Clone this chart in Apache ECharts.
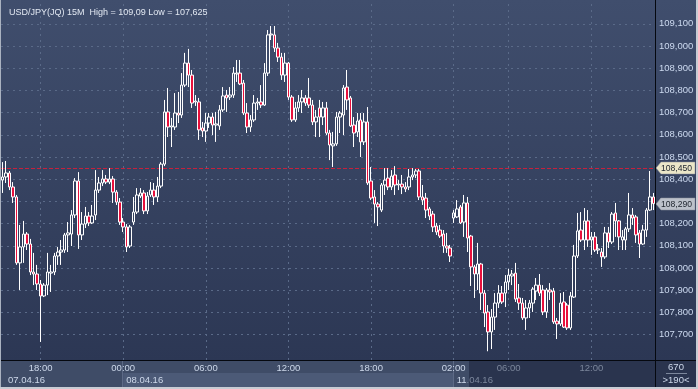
<!DOCTYPE html>
<html><head><meta charset="utf-8">
<script src="https://cdn.jsdelivr.net/npm/echarts@6/dist/echarts.min.js"></script>
<style>html,body{margin:0;padding:0;background:#2c3754;overflow:hidden}#c{width:698px;height:389px}</style>
</head><body><div id="c"></div>
<script>
const opens = [
108.396,108.410,108.428,108.365,108.320,108.023,108.095,108.153,108.108,107.982,
107.973,107.928,107.874,107.923,107.977,107.982,108.054,108.072,108.081,108.149,
108.153,108.239,108.392,108.149,108.198,108.234,108.203,108.239,108.351,108.383,
108.401,108.387,108.401,108.342,108.297,108.207,108.185,108.099,108.207,108.252,
108.324,108.338,108.257,108.329,108.351,108.320,108.369,108.468,108.703,108.635,
108.635,108.698,108.689,108.824,108.923,108.869,108.748,108.748,108.631,108.617,
108.653,108.680,108.644,108.640,108.712,108.779,108.770,108.779,108.874,108.878,
108.833,108.698,108.635,108.667,108.743,108.748,108.734,108.878,109.050,109.050,
108.991,108.950,108.869,108.923,108.770,108.667,108.721,108.748,108.766,108.766,
108.734,108.658,108.721,108.680,108.721,108.608,108.550,108.559,108.680,108.689,
108.815,108.766,108.644,108.613,108.667,108.568,108.658,108.392,108.320,108.288,
108.261,108.374,108.405,108.365,108.419,108.374,108.378,108.365,108.365,108.410,
108.419,108.437,108.320,108.315,108.266,108.243,108.189,108.171,108.153,108.099,
108.090,108.225,108.230,108.275,108.207,108.293,108.144,108.005,107.973,108.018,
107.887,107.802,107.712,107.779,107.842,107.887,107.887,107.937,107.964,107.977,
107.865,107.842,107.775,107.820,107.842,107.896,107.923,107.901,107.802,107.901,
107.896,107.761,107.748,107.847,107.833,107.730,107.869,108.054,108.171,108.126,
108.212,108.126,108.140,108.081,108.072,108.050,108.158,108.117,108.248,108.212,
108.126,108.126,108.176,108.239,108.230,108.158,108.108,108.171,108.261,108.320];
const closes = [
108.410,108.428,108.365,108.320,108.023,108.095,108.153,108.108,107.982,107.973,
107.928,107.874,107.923,107.982,107.982,108.054,108.072,108.081,108.149,108.158,
108.239,108.392,108.149,108.198,108.234,108.203,108.234,108.351,108.383,108.401,
108.387,108.401,108.342,108.297,108.207,108.185,108.095,108.185,108.252,108.329,
108.338,108.257,108.324,108.351,108.320,108.369,108.468,108.703,108.635,108.640,
108.698,108.689,108.824,108.923,108.869,108.743,108.752,108.622,108.617,108.653,
108.680,108.644,108.649,108.712,108.775,108.766,108.779,108.878,108.878,108.829,
108.698,108.635,108.667,108.743,108.748,108.734,108.878,109.050,109.054,108.991,
108.950,108.869,108.923,108.770,108.667,108.721,108.748,108.766,108.743,108.734,
108.658,108.680,108.680,108.721,108.608,108.554,108.559,108.680,108.698,108.811,
108.757,108.640,108.608,108.662,108.568,108.658,108.383,108.315,108.288,108.275,
108.374,108.396,108.365,108.414,108.374,108.378,108.365,108.356,108.410,108.419,
108.437,108.320,108.306,108.261,108.234,108.185,108.162,108.144,108.099,108.090,
108.054,108.248,108.266,108.203,108.293,108.135,108.005,107.973,108.018,107.887,
107.797,107.712,107.779,107.842,107.887,107.847,107.937,107.968,107.973,107.860,
107.842,107.775,107.820,107.842,107.905,107.923,107.887,107.802,107.901,107.892,
107.757,107.748,107.842,107.734,107.730,107.874,108.054,108.167,108.126,108.212,
108.126,108.140,108.081,108.086,108.050,108.158,108.117,108.243,108.212,108.140,
108.140,108.176,108.239,108.225,108.149,108.108,108.171,108.261,108.320,108.290];
const lows = [
108.338,108.383,108.351,108.293,108.014,107.901,108.023,108.081,107.968,107.923,
107.901,107.667,107.869,107.878,107.892,107.968,108.014,108.014,108.068,108.072,
108.099,108.225,108.086,108.126,108.180,108.189,108.198,108.216,108.338,108.369,
108.378,108.378,108.293,108.284,108.194,108.162,108.072,108.090,108.194,108.243,
108.315,108.243,108.243,108.320,108.284,108.297,108.360,108.459,108.590,108.545,
108.622,108.653,108.676,108.815,108.815,108.721,108.730,108.577,108.590,108.568,
108.631,108.599,108.568,108.622,108.703,108.703,108.757,108.766,108.838,108.824,
108.689,108.608,108.613,108.658,108.712,108.721,108.730,108.865,109.027,108.973,
108.928,108.847,108.838,108.757,108.658,108.658,108.703,108.698,108.730,108.721,
108.644,108.590,108.590,108.644,108.599,108.486,108.455,108.550,108.608,108.599,
108.712,108.635,108.545,108.590,108.500,108.554,108.374,108.306,108.203,108.189,
108.252,108.329,108.351,108.351,108.329,108.351,108.333,108.342,108.351,108.396,
108.405,108.306,108.284,108.225,108.216,108.162,108.149,108.135,108.068,108.068,
108.027,108.203,108.225,108.198,108.140,108.072,107.919,107.865,107.901,107.811,
107.734,107.625,107.635,107.721,107.820,107.838,107.824,107.901,107.923,107.847,
107.811,107.766,107.721,107.775,107.802,107.856,107.874,107.788,107.775,107.856,
107.748,107.680,107.739,107.730,107.721,107.721,107.865,108.045,108.117,108.081,
108.095,108.059,108.072,108.063,108.005,108.041,108.090,108.108,108.140,108.081,
108.081,108.081,108.162,108.194,108.113,108.045,108.104,108.140,108.257,108.261];
const highs = [
108.477,108.482,108.437,108.387,108.329,108.194,108.212,108.162,108.131,108.068,
108.014,107.946,107.932,108.068,108.014,108.068,108.095,108.126,108.158,108.207,
108.261,108.405,108.432,108.252,108.275,108.252,108.284,108.441,108.410,108.441,
108.419,108.450,108.414,108.351,108.315,108.225,108.198,108.194,108.320,108.360,
108.360,108.351,108.342,108.387,108.383,108.410,108.477,108.757,108.811,108.676,
108.788,108.793,108.878,108.969,108.987,108.892,108.779,108.766,108.658,108.698,
108.698,108.698,108.703,108.734,108.815,108.802,108.815,108.905,108.937,108.937,
108.847,108.743,108.689,108.779,108.766,108.824,108.923,109.072,109.090,109.090,
109.014,108.969,108.969,108.928,108.779,108.748,108.779,108.802,108.779,108.856,
108.757,108.712,108.757,108.748,108.748,108.622,108.613,108.703,108.707,108.824,
108.892,108.775,108.680,108.698,108.698,108.698,108.725,108.455,108.351,108.297,
108.383,108.450,108.450,108.441,108.459,108.396,108.419,108.387,108.446,108.450,
108.446,108.446,108.374,108.338,108.275,108.257,108.203,108.194,108.171,108.158,
108.104,108.261,108.306,108.284,108.329,108.320,108.149,108.014,108.113,108.023,
107.901,107.833,107.815,107.887,107.923,107.919,107.968,107.996,107.991,108.023,
107.928,107.865,107.856,107.856,107.914,107.955,107.973,107.923,107.910,107.932,
107.910,107.775,107.887,107.892,107.842,107.892,108.104,108.248,108.252,108.270,
108.261,108.162,108.162,108.108,108.090,108.185,108.185,108.252,108.293,108.216,
108.171,108.185,108.338,108.270,108.239,108.171,108.194,108.270,108.437,108.338];

const tickIndex  = [11, 35, 59, 83, 107, 131, 147, 171];
const tickLabels = ['18:00','00:00','06:00','12:00','18:00','02:00','06:00','12:00'];
const dateIndex  = [0, 35, 131];
const dateLabels = ['07.04.16','08.04.16','11.04.16'];
const priceLevels = [107.7,107.8,107.9,108.0,108.1,108.2,108.3,108.4,108.5,108.6,108.7,108.8,108.9,109.0,109.1];
const markerPrices = [108.450, 108.290];
const markerLabels = ['108,450', '108,290'];
const titleText = 'USD/JPY(JQ) 15M  High = 109,09 Low = 107,625';
const infoLabels = ['670', '>190<'];

// category labels (15-minute bars; weekend gap after bar 130)
const categories = [];
function pad(n){ return (n < 10 ? '0' : '') + n; }
for (let i = 0; i < opens.length; i++) {
  let t, day;
  if (i < 131) { t = 915 + i * 15; day = t >= 1440 ? '08.04' : '07.04'; }
  else { t = 120 + (i - 131) * 15; day = '11.04'; }
  t = t % 1440;
  categories.push(day + ' ' + pad(Math.floor(t / 60)) + ':' + pad(t % 60));
}
const ohlc = opens.map((o, i) => [o, closes[i], lows[i], highs[i]]);

const FONT = '"Liberation Sans", Arial, sans-serif';
const chart = echarts.init(document.getElementById('c'), null, {renderer: 'canvas'});
const Y_MIN = 107.5856, Y_MAX = 109.2072;

const gridMarks = tickIndex.map(i => ({xAxis: categories[i]}))
  .concat(priceLevels.map(v => ({yAxis: v})));

chart.setOption({
  animation: false,
  backgroundColor: 'transparent',
  title: {
    text: titleText, left: 4, top: 3,
    textStyle: {color: '#e2e8f2', fontSize: 9, fontWeight: 'normal', fontFamily: FONT}
  },
  grid: {left: 1, right: 43, top: 0, bottom: 29, containLabel: false},
  xAxis: {
    type: 'category', data: categories, boundaryGap: true,
    axisLine: {show: false}, axisTick: {show: false}, axisLabel: {show: false},
    splitLine: {show: false}
  },
  yAxis: {
    type: 'value', position: 'right', min: Y_MIN, max: Y_MAX, scale: true,
    minInterval: 0.1, maxInterval: 0.1, splitNumber: 16,
    axisLine: {show: false}, axisTick: {show: false}, splitLine: {show: false},
    axisLabel: {
      show: true, margin: 4, color: '#cddaf0', fontSize: 9.5, fontFamily: FONT,
      showMinLabel: false, showMaxLabel: false,
      formatter: v => (v < 107.65 || v > 109.15) ? '' : v.toFixed(3).replace('.', ',')
    }
  },
  series: [
    {
      type: 'line', data: [], z: 1, silent: true,
      markLine: {
        z: 1, silent: true, symbol: 'none', animation: false,
        label: {show: false},
        lineStyle: {color: '#5a6a88', type: [2, 4], width: 1},
        data: gridMarks.concat([{yAxis: markerPrices[0], lineStyle: {color: '#c8203c', type: [4, 2], width: 1}}])
      }
    },
    {
      type: 'candlestick', data: ohlc, z: 5, barWidth: 3,
      itemStyle: {
        color: 'rgba(0,0,0,0)', color0: '#e8103c',
        borderColor: '#ffffff', borderColor0: '#ffffff', borderWidth: 1
      }
    }
  ]
});

// decorations positioned through the chart's own scales
const py = v => chart.convertToPixel({yAxisIndex: 0}, v);
const px = i => chart.convertToPixel({xAxisIndex: 0}, categories[i]);
const g = [];
g.push({type: 'rect', z: -10, silent: true, shape: {x: 0, y: 0, width: 698, height: 361},
  style: {fill: new echarts.graphic.LinearGradient(0, 0, 0, 1, [
    {offset: 0, color: '#404e6d'}, {offset: 1, color: '#2c3754'}])}});
// bottom axis area
g.push({type: 'rect', z: -5, silent: true, shape: {x: 0, y: 361, width: 698, height: 28}, style: {fill: '#3f4c67'}});
g.push({type: 'rect', z: -4, silent: true, shape: {x: px(35), y: 373, width: px(131) - px(35), height: 14}, style: {fill: '#4c5a77'}});
g.push({type: 'rect', z: -3, silent: true, shape: {x: 469, y: 361, width: 187, height: 26}, style: {fill: '#2a344e'}});
g.push({type: 'rect', z: -3, silent: true, shape: {x: 656, y: 361, width: 40, height: 26}, style: {fill: '#2a344e'}});
[35, 131].forEach(i => g.push({type: 'line', z: -2, silent: true,
  shape: {x1: Math.round(px(i)) - 0.5, y1: 361, x2: Math.round(px(i)) - 0.5, y2: 387}, style: {stroke: '#5d6a86', lineWidth: 1}}));
// black separators
g.push({type: 'line', z: 20, silent: true, shape: {x1: 0, y1: 360.5, x2: 698, y2: 360.5}, style: {stroke: '#05080f', lineWidth: 1}});
g.push({type: 'line', z: 20, silent: true, shape: {x1: 655.5, y1: 0, x2: 655.5, y2: 389}, style: {stroke: '#05080f', lineWidth: 1}});
// frame
g.push({type: 'rect', z: 21, silent: true, shape: {x: 0, y: 0, width: 1, height: 389}, style: {fill: '#aab2c0'}});
g.push({type: 'rect', z: 21, silent: true, shape: {x: 696, y: 0, width: 2, height: 389}, style: {fill: '#c8ccd4'}});
g.push({type: 'rect', z: 21, silent: true, shape: {x: 0, y: 387, width: 698, height: 2}, style: {fill: '#c8ccd4'}});
// time labels
tickIndex.forEach((idx, k) => g.push({type: 'text', z: 10, silent: true,
  style: {x: px(idx), y: 368, text: tickLabels[k], fill: idx >= 140 ? '#7c879c' : '#cdd8ea',
    fontSize: 9.5, fontFamily: FONT, align: 'center', verticalAlign: 'middle'}}));
// date labels
dateIndex.forEach((idx, k) => {
  const x = idx === 0 ? 8 : px(idx) + 3;
  if (idx === 131) {
    g.push({type: 'text', z: 10, silent: true, style: {x: x, y: 380, text: '{a|11}{b|.04.16}',
      rich: {a: {fill: '#cdd8ea', fontSize: 9.5, fontFamily: FONT}, b: {fill: '#7c879c', fontSize: 9.5, fontFamily: FONT}},
      verticalAlign: 'middle'}});
  } else {
    g.push({type: 'text', z: 10, silent: true, style: {x: x, y: 380, text: dateLabels[k], fill: '#cdd8ea',
      fontSize: 9.5, fontFamily: FONT, verticalAlign: 'middle'}});
  }
});
// info box
g.push({type: 'text', z: 10, silent: true, style: {x: 676, y: 367, text: infoLabels[0], fill: '#cdd8ea', fontSize: 9.5, fontFamily: FONT, align: 'center', verticalAlign: 'middle'}});
g.push({type: 'line', z: 10, silent: true, shape: {x1: 666, y1: 373.5, x2: 687, y2: 373.5}, style: {stroke: '#7c879c', lineWidth: 1}});
g.push({type: 'text', z: 10, silent: true, style: {x: 676, y: 380, text: infoLabels[1], fill: '#cdd8ea', fontSize: 9.5, fontFamily: FONT, align: 'center', verticalAlign: 'middle'}});
// price markers
const markerFill = ['#ebe6c8', '#bcc1ca'];
markerPrices.forEach((v, k) => {
  const y = Math.round(py(v));
  g.push({type: 'polygon', z: 15, silent: true,
    shape: {points: [[656, y], [661, y - 6], [695, y - 6], [695, y + 6], [661, y + 6]]},
    style: {fill: markerFill[k], stroke: '#8a8f98', lineWidth: 0.5}});
  g.push({type: 'text', z: 16, silent: true, style: {x: 661, y: y + 0.5, text: markerLabels[k], fill: '#222831',
    fontSize: 8.6, fontFamily: FONT, verticalAlign: 'middle'}});
});
chart.setOption({graphic: {elements: g}});
</script></body></html>
